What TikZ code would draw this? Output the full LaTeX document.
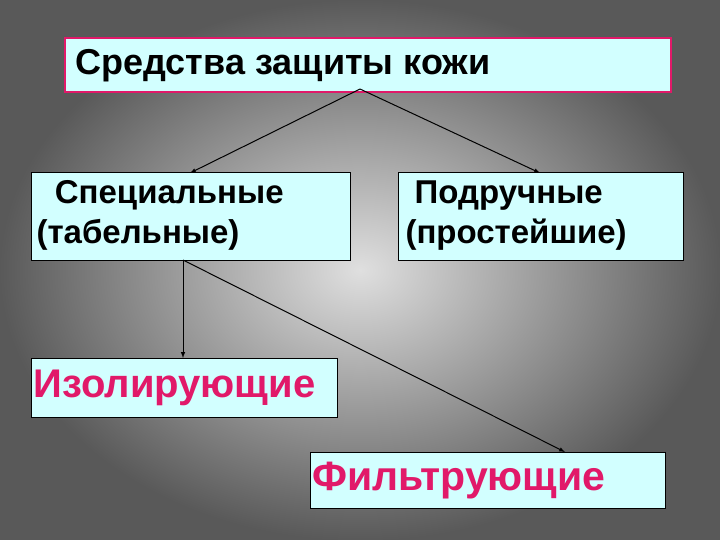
\documentclass[tikz,border=0pt]{standalone}
\usepackage{fontspec}
\setmainfont{Liberation Sans}
\begin{document}
\begin{tikzpicture}[x=1pt,y=-1pt,
  box/.style={draw=black,line width=1pt,fill=cy,inner sep=0pt},
  arr/.style={-latex,line width=1pt}]
\definecolor{pk}{RGB}{225,25,105}
\definecolor{cy}{RGB}{210,255,255}
\useasboundingbox (0,0) rectangle (720,540);
\shade[inner color=gray!25,outer color=gray!70!black] (0,0) rectangle (720,540);
\draw[box,draw=pk,line width=2.5pt] (65,38) rectangle (671,92);
\node[anchor=west,font=\bfseries\fontsize{36}{40}\selectfont] (t1) at (72,66) {Средства защиты кожи};
\coordinate (top) at (360,89);
\draw[box] (31,173) rectangle (350,260);
\node[anchor=north west,align=left,font=\bfseries\fontsize{33}{40}\selectfont] (t2) at (33,177) {\ \ Специальные\\(табельные)};
\draw[box] (398,173) rectangle (683,260);
\node[anchor=north west,align=left,font=\bfseries\fontsize{33}{40}\selectfont] (t3) at (402,177) {\ Подручные\\(простейшие)};
\draw[box] (31,358) rectangle (337,417);
\node[anchor=west,text=pk,font=\bfseries\fontsize{40}{44}\selectfont] (t4) at (30,388) {Изолирующие};
\draw[box] (310,452) rectangle (665,508);
\node[anchor=west,text=pk,font=\bfseries\fontsize{41}{44}\selectfont] (t5) at (309,481) {Фильтрующие};
\coordinate (a2) at (190,173);
\coordinate (a3) at (540,173);
\coordinate (s) at (183,260);
\coordinate (a4) at (183,358);
\coordinate (a5) at (565,452);
\draw[arr] (top) -- (a2);
\draw[arr] (top) -- (a3);
\draw[arr] (s) -- (a4);
\draw[arr] (s) -- (a5);
\end{tikzpicture}
\end{document}
